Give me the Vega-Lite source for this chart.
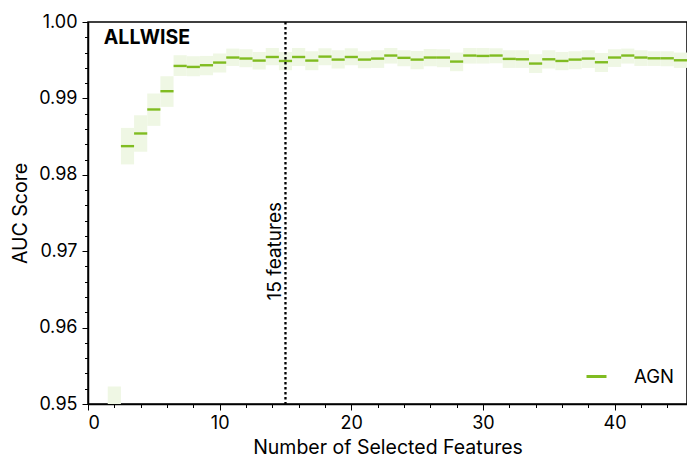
{
  "$schema": "https://vega.github.io/schema/vega-lite/v6.json",
  "width": 599,
  "height": 382,
  "autosize": {"type": "none"},
  "padding": {"left": 88, "top": 22, "right": 0, "bottom": 55},
  "background": "white",
  "config": {
    "font": "Inter",
    "view": {"stroke": "black", "strokeWidth": 1.5},
    "axis": {
      "grid": false,
      "domainColor": "black",
      "domainWidth": 1.5,
      "tickColor": "black",
      "tickWidth": 1,
      "labelColor": "black",
      "labelFont": "Inter",
      "labelFontSize": 18,
      "titleColor": "black",
      "titleFont": "Inter",
      "titleFontSize": 19.5,
      "titleFontWeight": "normal"
    },
    "legend": {
      "orient": "none",
      "legendX": 497,
      "legendY": 343,
      "padding": 0,
      "symbolType": "stroke",
      "symbolStrokeWidth": 3,
      "symbolSize": 400,
      "labelFont": "Inter",
      "labelFontSize": 18.5,
      "labelColor": "black",
      "labelOffset": 26
    }
  },
  "datasets": {
    "scores": [
      {"n": 2, "auc": 0.9445, "lo": 0.9368, "hi": 0.9523},
      {"n": 3, "auc": 0.98375, "lo": 0.98136, "hi": 0.98614},
      {"n": 4, "auc": 0.98541, "lo": 0.98301, "hi": 0.9878},
      {"n": 5, "auc": 0.98855, "lo": 0.98641, "hi": 0.99064},
      {"n": 6, "auc": 0.99094, "lo": 0.98889, "hi": 0.9929},
      {"n": 7, "auc": 0.99425, "lo": 0.99294, "hi": 0.99565},
      {"n": 8, "auc": 0.99412, "lo": 0.9929, "hi": 0.99552},
      {"n": 9, "auc": 0.99434, "lo": 0.99303, "hi": 0.99556},
      {"n": 10, "auc": 0.99469, "lo": 0.99339, "hi": 0.99587},
      {"n": 11, "auc": 0.99535, "lo": 0.99425, "hi": 0.99652},
      {"n": 12, "auc": 0.99522, "lo": 0.99408, "hi": 0.99643},
      {"n": 13, "auc": 0.99495, "lo": 0.99378, "hi": 0.99608},
      {"n": 14, "auc": 0.99542, "lo": 0.99434, "hi": 0.9966},
      {"n": 15, "auc": 0.9949, "lo": 0.99369, "hi": 0.99608},
      {"n": 16, "auc": 0.99542, "lo": 0.99425, "hi": 0.9966},
      {"n": 17, "auc": 0.99495, "lo": 0.99369, "hi": 0.99617},
      {"n": 18, "auc": 0.99547, "lo": 0.99434, "hi": 0.99656},
      {"n": 19, "auc": 0.99508, "lo": 0.99391, "hi": 0.9963},
      {"n": 20, "auc": 0.99542, "lo": 0.99434, "hi": 0.99656},
      {"n": 21, "auc": 0.99508, "lo": 0.99395, "hi": 0.99617},
      {"n": 22, "auc": 0.99521, "lo": 0.99399, "hi": 0.9963},
      {"n": 23, "auc": 0.99561, "lo": 0.99456, "hi": 0.9966},
      {"n": 24, "auc": 0.99531, "lo": 0.99421, "hi": 0.9963},
      {"n": 25, "auc": 0.99508, "lo": 0.99382, "hi": 0.99621},
      {"n": 26, "auc": 0.99535, "lo": 0.99421, "hi": 0.99647},
      {"n": 27, "auc": 0.99535, "lo": 0.99408, "hi": 0.99643},
      {"n": 28, "auc": 0.99482, "lo": 0.99356, "hi": 0.996},
      {"n": 29, "auc": 0.99561, "lo": 0.99456, "hi": 0.9966},
      {"n": 30, "auc": 0.99556, "lo": 0.99456, "hi": 0.9966},
      {"n": 31, "auc": 0.99561, "lo": 0.9946, "hi": 0.99656},
      {"n": 32, "auc": 0.99517, "lo": 0.99399, "hi": 0.9963},
      {"n": 33, "auc": 0.99512, "lo": 0.99399, "hi": 0.9963},
      {"n": 34, "auc": 0.99456, "lo": 0.99333, "hi": 0.99578},
      {"n": 35, "auc": 0.99512, "lo": 0.99391, "hi": 0.9963},
      {"n": 36, "auc": 0.9949, "lo": 0.99369, "hi": 0.99608},
      {"n": 37, "auc": 0.99508, "lo": 0.99382, "hi": 0.99617},
      {"n": 38, "auc": 0.99521, "lo": 0.99399, "hi": 0.9963},
      {"n": 39, "auc": 0.99473, "lo": 0.99346, "hi": 0.99595},
      {"n": 40, "auc": 0.99535, "lo": 0.99412, "hi": 0.99643},
      {"n": 41, "auc": 0.99561, "lo": 0.99456, "hi": 0.99652},
      {"n": 42, "auc": 0.99535, "lo": 0.99425, "hi": 0.9963},
      {"n": 43, "auc": 0.99525, "lo": 0.99425, "hi": 0.99617},
      {"n": 44, "auc": 0.99525, "lo": 0.99421, "hi": 0.99617},
      {"n": 45, "auc": 0.99499, "lo": 0.99399, "hi": 0.996}
    ],
    "cutoff": [{"n": 15, "auc": 0.97, "label": "15 features"}],
    "panel": [{"n": 1.2, "auc": 0.99712, "label": "ALLWISE"}]
  },
  "layer": [
    {
      "data": {"name": "scores"},
      "transform": [
        {"calculate": "datum.n - 0.5", "as": "left"},
        {"calculate": "datum.n + 0.5", "as": "right"}
      ],
      "mark": {"type": "rect", "color": "#eff7e4", "clip": true},
      "encoding": {
        "x": {
          "field": "left",
          "type": "quantitative",
          "scale": {"domain": [0, 45.5], "nice": false, "zero": false},
          "axis": {
            "orient": "bottom",
            "values": [0, 10, 20, 30, 40],
            "format": "d",
            "tickSize": 6,
            "labelPadding": 4,
            "title": "Number of Selected Features",
            "titlePadding": 6
          }
        },
        "x2": {"field": "right"},
        "y": {
          "field": "lo",
          "type": "quantitative",
          "scale": {"domain": [0.95, 1.0], "nice": false, "zero": false},
          "axis": {
            "orient": "left",
            "values": [0.95, 0.96, 0.97, 0.98, 0.99, 1.0],
            "format": ".2f",
            "tickSize": 6,
            "labelPadding": 5,
            "title": "AUC Score",
            "titlePadding": 8
          }
        },
        "y2": {"field": "hi"}
      }
    },
    {
      "data": {"name": "scores"},
      "transform": [
        {"calculate": "datum.n - 0.5", "as": "left"},
        {"calculate": "datum.n + 0.5", "as": "right"}
      ],
      "mark": {"type": "rule", "strokeWidth": 2.4, "clip": true},
      "encoding": {
        "x": {
          "field": "left",
          "type": "quantitative",
          "axis": {
            "orient": "bottom",
            "values": [2, 4, 6, 8, 12, 14, 16, 18, 22, 24, 26, 28, 32, 34, 36, 38, 42, 44],
            "labels": false,
            "domain": false,
            "tickSize": 3.5,
            "title": null
          }
        },
        "x2": {"field": "right"},
        "y": {
          "field": "auc",
          "type": "quantitative",
          "axis": {
            "orient": "left",
            "values": [0.952, 0.954, 0.956, 0.958, 0.962, 0.964, 0.966, 0.968, 0.972, 0.974, 0.976, 0.978, 0.982, 0.984, 0.986, 0.988, 0.992, 0.994, 0.996, 0.998],
            "labels": false,
            "domain": false,
            "tickSize": 3.5,
            "title": null
          }
        },
        "color": {
          "datum": "AGN",
          "type": "nominal",
          "scale": {"range": ["#80bc21"]},
          "legend": {"title": null}
        }
      }
    },
    {
      "data": {"name": "cutoff"},
      "mark": {"type": "rule", "color": "black", "strokeWidth": 2.3, "strokeDash": [2.4, 2.6]},
      "encoding": {
        "x": {"field": "n", "type": "quantitative", "axis": null}
      }
    },
    {
      "data": {"name": "cutoff"},
      "mark": {
        "type": "text",
        "angle": 270,
        "align": "center",
        "baseline": "bottom",
        "fontSize": 19,
        "color": "black"
      },
      "encoding": {
        "x": {"field": "n", "type": "quantitative", "axis": null},
        "y": {"field": "auc", "type": "quantitative", "axis": null},
        "text": {"field": "label"}
      }
    },
    {
      "data": {"name": "panel"},
      "mark": {
        "type": "text",
        "align": "left",
        "baseline": "alphabetic",
        "fontSize": 19.5,
        "fontWeight": "bold",
        "color": "black"
      },
      "encoding": {
        "x": {"field": "n", "type": "quantitative", "axis": null},
        "y": {"field": "auc", "type": "quantitative", "axis": null},
        "text": {"field": "label"}
      }
    }
  ],
  "resolve": {"axis": {"x": "independent", "y": "independent"}}
}
